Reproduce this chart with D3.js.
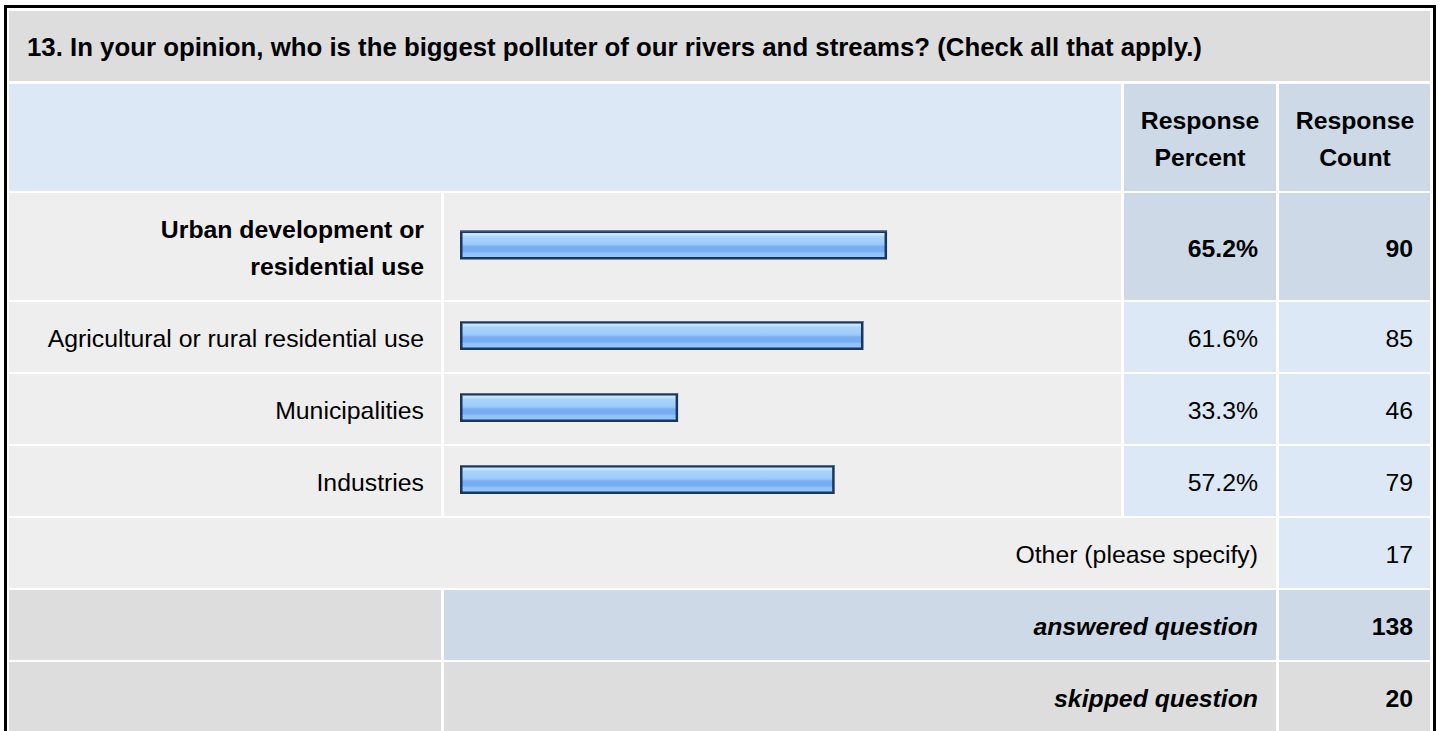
<!DOCTYPE html>
<html>
<head>
<meta charset="utf-8">
<script src="https://cdn.jsdelivr.net/npm/d3@7"></script>
<style>
  html, body { margin: 0; padding: 0; background: #ffffff; }
  svg { display: block; }
  text { font-family: "Liberation Sans", Arial, Helvetica, sans-serif; fill: #000; }
</style>
</head>
<body>
<svg id="chart" width="1440" height="731"></svg>
<script>
// ---------------- data ----------------
const questionTitle = "13. In your opinion, who is the biggest polluter of our rivers and streams? (Check all that apply.)";
const headerPercent = ["Response", "Percent"];
const headerCount = ["Response", "Count"];
const categories = [
  "Urban development or residential use",
  "Agricultural or rural residential use",
  "Municipalities",
  "Industries"
];
const percents = [65.2, 61.6, 33.3, 57.2];
const counts = [90, 85, 46, 79];
const otherLabel = "Other (please specify)";
const otherCount = 17;
const summaryLabels = ["answered question", "skipped question"];
const summaryValues = [138, 20];

// ---------------- layout ----------------
const svg = d3.select("#chart");
const FS = 24.8;
const LH = 37.5;
const cols = { label: [9, 441], bar: [444, 1121], pct: [1124, 1276], cnt: [1279, 1430] };
const C = { title: "#dddddd", head: "#dce8f5", headDark: "#cdd9e6", row: "#eeeeee", cellLight: "#dce8f5", gray: "#dddddd" };

// gradient for the bars
const defs = svg.append("defs");
const grad = defs.append("linearGradient").attr("id", "barGrad")
  .attr("x1", 0).attr("y1", 0).attr("x2", 0).attr("y2", 1);
[
  [0, "#d2e9ff"], [0.12, "#c4e2ff"], [0.2, "#a9d3fd"], [0.42, "#a0cdfc"],
  [0.5, "#92c3fa"], [0.56, "#78adf1"], [0.74, "#78adf1"], [0.8, "#8ec0fb"], [1, "#99c9fc"]
].forEach(([o, c]) => grad.append("stop").attr("offset", o).attr("stop-color", c));

function cell(x0, x1, y0, y1, fill) {
  svg.append("rect").attr("x", x0).attr("y", y0).attr("width", x1 - x0).attr("height", y1 - y0).attr("fill", fill);
}
function txt(lines, x, cy, anchor, weight, style, size) {
  const n = lines.length;
  const t = svg.append("text").attr("text-anchor", anchor)
    .attr("font-size", size || FS).attr("font-weight", weight || "normal").attr("font-style", style || "normal");
  lines.forEach((l, i) => {
    t.append("tspan").attr("x", x).attr("y", cy + 10 + (i - (n - 1) / 2) * LH).text(l);
  });
  return t;
}
function wrap(str, maxW, weight) {
  const words = str.split(" ");
  const probe = svg.append("text").attr("font-size", FS).attr("font-weight", weight).attr("visibility", "hidden");
  const lines = [];
  let cur = "";
  words.forEach(w => {
    const test = cur ? cur + " " + w : w;
    probe.text(test);
    if (probe.node().getComputedTextLength() > maxW && cur) { lines.push(cur); cur = w; }
    else cur = test;
  });
  if (cur) lines.push(cur);
  probe.remove();
  return lines;
}

// title row
cell(9, 1430, 11, 81, C.title);
txt([questionTitle], 27, 46, "start", "bold", "normal", 25.8);

// header row
cell(9, 1121, 84, 191, C.head);
cell(cols.pct[0], cols.pct[1], 84, 191, C.headDark);
cell(cols.cnt[0], cols.cnt[1], 84, 191, C.headDark);
txt(headerPercent, (cols.pct[0] + cols.pct[1]) / 2, 137.5, "middle", "bold");
txt(headerCount, (cols.cnt[0] + cols.cnt[1]) / 2 + 0.5, 137.5, "middle", "bold");

// category rows
const rowBounds = [[193, 300], [302, 372], [374, 444], [446, 516]];
const maxIdx = d3.maxIndex(percents);
const x = d3.scaleLinear().domain([0, 100]).range([0, 655]);
const barX = 460, barH = 29;

categories.forEach((cat, i) => {
  const [y0, y1] = rowBounds[i];
  const cy = (y0 + y1) / 2;
  const hi = i === maxIdx;
  cell(cols.label[0], cols.label[1], y0, y1, C.row);
  cell(cols.bar[0], cols.bar[1], y0, y1, C.row);
  cell(cols.pct[0], cols.pct[1], y0, y1, hi ? C.headDark : C.cellLight);
  cell(cols.cnt[0], cols.cnt[1], y0, y1, hi ? C.headDark : C.cellLight);
  const w = hi ? "bold" : "normal";
  txt(wrap(cat, 390, w), 424, cy, "end", w);
  const by = cy - 1.5 - barH / 2;
  svg.append("rect").attr("x", barX + 1.25).attr("y", by + 1.25)
    .attr("width", x(percents[i]) - 2.5).attr("height", barH - 2.5)
    .attr("fill", "url(#barGrad)").attr("stroke", "#1b365d").attr("stroke-width", 2.5);
  svg.append("line").attr("x1", barX).attr("x2", barX + x(percents[i]))
    .attr("y1", by + 0.5).attr("y2", by + 0.5).attr("stroke", "#55698a").attr("stroke-width", 1);
  txt([percents[i].toFixed(1) + "%"], 1258, cy, "end", w);
  txt([String(counts[i])], 1413, cy, "end", w);
});

// other row
cell(9, 1276, 518, 588, C.row);
cell(cols.cnt[0], cols.cnt[1], 518, 588, C.cellLight);
txt([otherLabel], 1258, 553, "end", "normal");
txt([String(otherCount)], 1413, 553, "end", "normal");

// summary rows
const sumBounds = [[590, 660], [662, 732]];
summaryLabels.forEach((lab, i) => {
  const [y0, y1] = sumBounds[i];
  const cy = (y0 + y1) / 2;
  cell(cols.label[0], cols.label[1], y0, y1, C.gray);
  cell(cols.bar[0], cols.pct[1], y0, y1, i === 0 ? C.headDark : C.gray);
  cell(cols.cnt[0], cols.cnt[1], y0, y1, i === 0 ? C.headDark : C.gray);
  txt([lab], 1258, cy, "end", "bold", "italic");
  txt([String(summaryValues[i])], 1413, cy, "end", "bold");
});

// outer border
svg.append("rect").attr("x", 5.5).attr("y", 6.5).attr("width", 1429).attr("height", 760)
  .attr("fill", "none").attr("stroke", "#000").attr("stroke-width", 3);
</script>
</body>
</html>
